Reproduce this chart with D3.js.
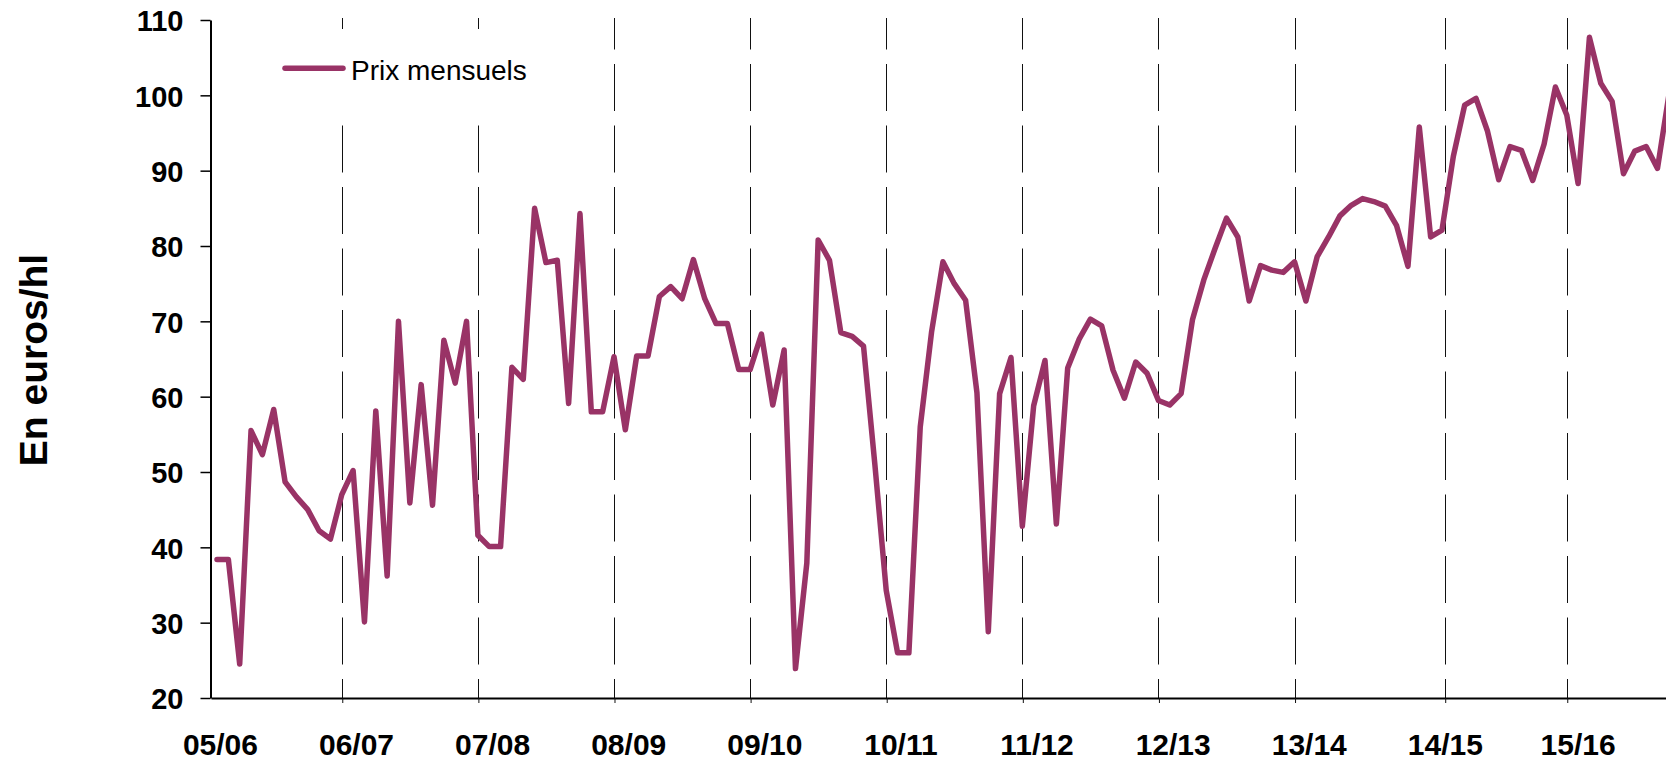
<!DOCTYPE html>
<html>
<head>
<meta charset="utf-8">
<script src="https://cdn.jsdelivr.net/npm/d3@7"></script>
<style>
  html, body { margin: 0; padding: 0; background: #fff; }
  svg { display: block; }
  text { font-family: "Liberation Sans", Arial, sans-serif; }
</style>
</head>
<body>
<svg id="chart" width="1666" height="760"></svg>
<script>
// Monthly prices (euros/hl), one value per month starting in the 05/06 campaign
const prices = [
  38.4, 38.4, 24.5, 55.5, 52.3, 58.3, 48.7, 46.7, 45.0, 42.2, 41.1, 47.0,
  50.2, 30.1, 58.1, 36.2, 70.0, 45.9, 61.6, 45.6, 67.5, 61.8, 70.0, 41.6,
  40.1, 40.1, 63.9, 62.3, 85.0, 77.8, 78.1, 59.1, 84.3, 58.0, 58.0, 65.3,
  55.6, 65.4, 65.4, 73.3, 74.6, 73.0, 78.2, 73.0, 69.7, 69.7, 63.6, 63.6,
  68.3, 58.9, 66.2, 23.9, 37.9, 80.8, 78.1, 68.5, 68.0, 66.7, 51.0, 34.3,
  26.0, 26.0, 56.0, 68.6, 77.9, 75.0, 72.8, 60.5, 28.8, 60.4, 65.2, 42.8,
  58.8, 64.8, 43.1, 63.8, 67.6, 70.3, 69.4, 63.5, 59.8, 64.6, 63.1, 59.5,
  58.9, 60.4, 70.2, 75.5, 79.7, 83.7, 81.2, 72.7, 77.4, 76.8, 76.5, 77.9,
  72.7, 78.6, 81.2, 84.0, 85.4, 86.3, 85.9, 85.3, 82.7, 77.3, 95.8, 81.2,
  82.1, 91.9, 98.7, 99.6, 95.3, 88.8, 93.2, 92.7, 88.7, 93.5, 101.1, 97.4,
  88.3, 107.7, 101.6, 99.2, 89.6, 92.6, 93.2, 90.3, 100.0
];
// Campaign labels and their positions (month index)
const seasons = ["05/06","06/07","07/08","08/09","09/10","10/11","11/12","12/13","13/14","14/15","15/16"];
const seasonLabelPos = [0.3, 12.3, 24.3, 36.3, 48.3, 60.3, 72.3, 84.3, 96.3, 108.3, 120.0];
// Dashed campaign separators (month index)
const separators = [11, 23, 35, 47, 59, 71, 83, 95, 108.24, 119];
// Y ticks
const yTicks = [20, 30, 40, 50, 60, 70, 80, 90, 100, 110];
const seriesName = "Prix mensuels";
const yTitle = "En euros/hl";

const svg = d3.select("#chart");
const color = "#993366";
const font = '"Liberation Sans", Arial, sans-serif';

const x = d3.scaleLinear().domain([-0.53, 127.75]).range([211, 1666]);
const y = d3.scaleLinear().domain([20, 110]).range([698, 20]);

// dashed separators
svg.append("g").selectAll("line").data(separators).join("line")
  .attr("x1", d => Math.round(x(d)) + 0.5).attr("x2", d => Math.round(x(d)) + 0.5)
  .attr("y1", 18).attr("y2", 698)
  .attr("stroke", "#111").attr("stroke-width", 1)
  .attr("stroke-dasharray", "47,14.5").attr("stroke-dashoffset", 15.5);

// legend background (hides separators)
svg.append("rect").attr("x", 262).attr("y", 29).attr("width", 300).attr("height", 86)
  .attr("fill", "#fff");

// x axis (ticks at separators)
const xAxis = d3.axisBottom(x).tickValues(separators).tickSize(5).tickSizeOuter(0).tickFormat("");
const gx = svg.append("g").attr("transform", "translate(0,698)").call(xAxis);
gx.select(".domain").attr("stroke", "#000").attr("stroke-width", 2);
gx.selectAll(".tick line").attr("stroke", "#111").attr("stroke-width", 1)
  .attr("transform", "translate(0.5,0)");

// season labels
svg.append("g").selectAll("text").data(seasons).join("text")
  .attr("x", (d, i) => x(seasonLabelPos[i]))
  .attr("y", 755)
  .attr("text-anchor", "middle")
  .attr("font-size", 30).attr("font-weight", "bold").attr("fill", "#000")
  .text(d => d);

// y axis
const yAxis = d3.axisLeft(y).tickValues(yTicks).tickSize(10).tickSizeOuter(0).tickPadding(17);
const gy = svg.append("g").attr("transform", "translate(210.5,0)").call(yAxis);
gy.select(".domain").attr("stroke", "#000").attr("stroke-width", 2);
gy.selectAll(".tick line").attr("stroke", "#000").attr("stroke-width", 1.5);
gy.selectAll(".tick text").attr("font-size", 29).attr("font-weight", "bold")
  .attr("font-family", font).attr("fill", "#000").attr("dy", "0.37em");

// y title
svg.append("text")
  .attr("transform", "translate(46.5,360) rotate(-90)")
  .attr("text-anchor", "middle")
  .attr("font-size", 39).attr("font-weight", "bold").attr("fill", "#000")
  .text(yTitle);

// series line
const line = d3.line().x((d, i) => x(i)).y(d => y(d));
svg.append("path").datum(prices)
  .attr("d", line)
  .attr("fill", "none").attr("stroke", color).attr("stroke-width", 5.5)
  .attr("stroke-linejoin", "round").attr("stroke-linecap", "round");

// legend
svg.append("line").attr("x1", 285).attr("x2", 343).attr("y1", 68.3).attr("y2", 68.3)
  .attr("stroke", color).attr("stroke-width", 5.5).attr("stroke-linecap", "round");
svg.append("text").attr("x", 351).attr("y", 80)
  .attr("font-size", 28).attr("fill", "#000").text(seriesName);
</script>
</body>
</html>
